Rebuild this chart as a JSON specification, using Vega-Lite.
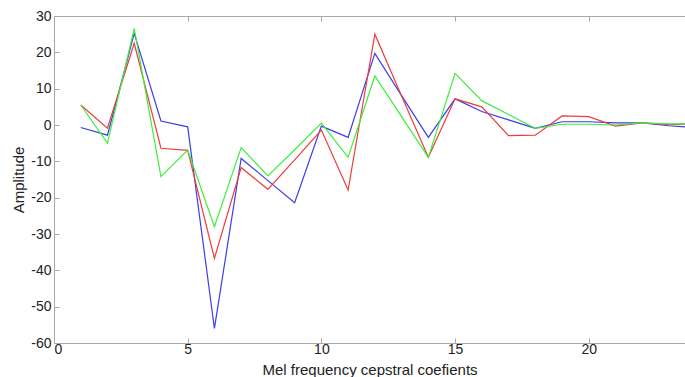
{
  "$schema": "https://vega.github.io/schema/vega-lite/v6.json",
  "width": 631,
  "height": 327,
  "autosize": {"type": "none"},
  "padding": {"left": 54, "top": 16, "right": 0, "bottom": 34},
  "background": "white",
  "config": {
    "view": {"stroke": "#a8a8a8", "strokeWidth": 1},
    "font": "Liberation Sans",
    "axis": {"grid": false, "domainColor": "#a8a8a8", "tickColor": "#a8a8a8", "labelColor": "#222222", "titleColor": "#222222", "labelFont": "Liberation Sans", "titleFont": "Liberation Sans", "labelFontSize": 14, "titleFontSize": 15, "titleFontWeight": "normal", "labelOverlap": false, "labelExpr": "'' + datum.value"}
  },
  "data": {"values": [
    {"x":1,"s":"blue","y":-0.7},{"x":2,"s":"blue","y":-2.8},{"x":3,"s":"blue","y":25.2},{"x":4,"s":"blue","y":1.1},{"x":5,"s":"blue","y":-0.5},{"x":6,"s":"blue","y":-56},{"x":7,"s":"blue","y":-9.2},{"x":8,"s":"blue","y":-15.3},{"x":9,"s":"blue","y":-21.4},{"x":10,"s":"blue","y":-0.3},{"x":11,"s":"blue","y":-3.4},{"x":12,"s":"blue","y":19.7},{"x":13,"s":"blue","y":8.1},{"x":14,"s":"blue","y":-3.4},{"x":15,"s":"blue","y":7.2},{"x":16,"s":"blue","y":3.7},{"x":17,"s":"blue","y":1.4},{"x":18,"s":"blue","y":-0.9},{"x":19,"s":"blue","y":0.9},{"x":20,"s":"blue","y":0.9},{"x":21,"s":"blue","y":0.6},{"x":22,"s":"blue","y":0.6},{"x":23,"s":"blue","y":-0.2},{"x":24,"s":"blue","y":-0.7},
    {"x":1,"s":"red","y":5.5},{"x":2,"s":"red","y":-0.9},{"x":3,"s":"red","y":22.5},{"x":4,"s":"red","y":-6.4},{"x":5,"s":"red","y":-7},{"x":6,"s":"red","y":-36.7},{"x":7,"s":"red","y":-11.7},{"x":8,"s":"red","y":-17.7},{"x":9,"s":"red","y":-9.6},{"x":10,"s":"red","y":-1.4},{"x":11,"s":"red","y":-17.9},{"x":12,"s":"red","y":25},{"x":13,"s":"red","y":8},{"x":14,"s":"red","y":-8.9},{"x":15,"s":"red","y":7.2},{"x":16,"s":"red","y":5},{"x":17,"s":"red","y":-2.9},{"x":18,"s":"red","y":-2.8},{"x":19,"s":"red","y":2.5},{"x":20,"s":"red","y":2.3},{"x":21,"s":"red","y":-0.3},{"x":22,"s":"red","y":0.6},{"x":23,"s":"red","y":0.1},{"x":24,"s":"red","y":0.3},
    {"x":1,"s":"green","y":5.5},{"x":2,"s":"green","y":-5},{"x":3,"s":"green","y":26.6},{"x":4,"s":"green","y":-14.2},{"x":5,"s":"green","y":-6.9},{"x":6,"s":"green","y":-28},{"x":7,"s":"green","y":-6.2},{"x":8,"s":"green","y":-14},{"x":9,"s":"green","y":-6.8},{"x":10,"s":"green","y":0.5},{"x":11,"s":"green","y":-8.9},{"x":12,"s":"green","y":13.5},{"x":13,"s":"green","y":2.3},{"x":14,"s":"green","y":-8.9},{"x":15,"s":"green","y":14.2},{"x":16,"s":"green","y":6.7},{"x":17,"s":"green","y":2.9},{"x":18,"s":"green","y":-0.9},{"x":19,"s":"green","y":0.2},{"x":20,"s":"green","y":0.2},{"x":21,"s":"green","y":0},{"x":22,"s":"green","y":0.6},{"x":23,"s":"green","y":0.3},{"x":24,"s":"green","y":0.3}
  ]},
  "layer": [
    {
      "mark": {"type": "line", "clip": true, "strokeWidth": 1.2},
      "encoding": {
        "x": {"field": "x", "type": "quantitative", "scale": {"domain": [0, 23.6], "nice": false, "zero": false},
              "axis": {"orient": "bottom", "values": [0,5,10,15,20], "tickSize": -5, "labelPadding": 4, "labelOverlap": false, "title": "Mel frequency cepstral coefients", "titleBaseline": "bottom", "titleY": 34}},
        "y": {"field": "y", "type": "quantitative", "scale": {"domain": [-60, 30], "nice": false},
              "axis": {"values": [-60,-50,-40,-30,-20,-10,0,10,20,30], "tickSize": -5, "labelPadding": 8, "labelOverlap": false, "labelFlush": false, "title": "Amplitude", "titlePadding": 4}},
        "color": {"field": "s", "type": "nominal", "legend": null,
                  "scale": {"domain": ["green","red","blue"], "range": ["#3cee3c", "#ee3c3c", "#3c3cee"]}},
        "order": {"field": "x", "type": "quantitative"}
      }
    },
    {
      "mark": {"type": "line", "strokeOpacity": 0},
      "encoding": {
        "x": {"field": "x", "type": "quantitative", "scale": {"domain": [0, 23.6], "nice": false, "zero": false},
              "axis": {"orient": "top", "values": [0,5,10,15,20], "tickSize": -5, "labels": false, "title": null, "domain": false}},
        "y": {"field": "y", "type": "quantitative", "scale": {"domain": [-60, 30], "nice": false},
              "axis": {"values": [-60,-50,-40,-30,-20,-10,0,10,20,30], "tickSize": -5, "labelPadding": 8, "labelOverlap": false, "labelFlush": false, "title": "Amplitude", "titlePadding": 4}},
        "detail": {"field": "s"}
      }
    }
  ],
  "resolve": {"axis": {"x": "independent"}}
}
